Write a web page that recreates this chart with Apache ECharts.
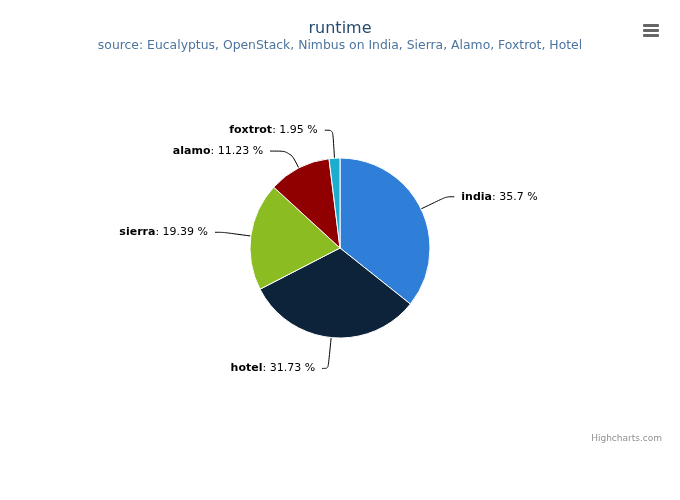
<!DOCTYPE html>
<html><head><meta charset="utf-8">
<script src="https://cdn.jsdelivr.net/npm/echarts@6/dist/echarts.min.js"></script>
<style>html,body{margin:0;padding:0;background:#fff}#c{width:680px;height:500px}</style>
</head><body><div id="c"></div>
<script>
const categories = ['india', 'hotel', 'sierra', 'alamo', 'foxtrot'];
const values = [35.7, 31.73, 19.39, 11.23, 1.95];
const colors = ['#2f7ed8', '#0d233a', '#8bbc21', '#910000', '#1aadce'];
const titleText = 'runtime';
const subtitleText = 'source: Eucalyptus, OpenStack, Nimbus on India, Sierra, Alamo, Foxtrot, Hotel';

const chart = echarts.init(document.getElementById('c'), null, {renderer: 'canvas'});
const font = 'DejaVu Sans';
chart.setOption({
  animation: false,
  textStyle: {fontFamily: font},
  title: {
    text: titleText, subtext: subtitleText, left: 'center', top: 16,
    itemGap: 3,
    textStyle: {fontFamily: font, fontSize: 16, fontWeight: 'normal', color: '#274b6d'},
    subtextStyle: {fontFamily: font, fontSize: 12.4, color: '#4d759e'}
  },
  graphic: [
    {type: 'rect', shape: {x: 643, y: 24, width: 16, height: 3, r: 1}, style: {fill: '#666'}},
    {type: 'rect', shape: {x: 643, y: 29, width: 16, height: 3, r: 1}, style: {fill: '#666'}},
    {type: 'rect', shape: {x: 643, y: 34, width: 16, height: 3, r: 1}, style: {fill: '#666'}},
    {type: 'text', right: 18, top: 434, style: {text: 'Highcharts.com', fill: '#909090', font: '9px ' + font}}
  ],
  series: [{
    type: 'pie',
    center: [340, 248],
    radius: 90,
    startAngle: 90,
    clockwise: true,
    color: colors,
    itemStyle: {borderColor: '#fff', borderWidth: 1},
    data: categories.map((c, i) => {
      const d = {name: c, value: values[i]};
      if (c === 'alamo') d.labelLine = {length: 19, length2: 20};
      if (c === 'hotel') d.labelLine = {length: 31, length2: 6};
      return d;
    }),
    label: {
      show: true,
      formatter: p => '{b|' + p.name + '}: ' + p.value + ' %',
      fontSize: 11, color: '#000', fontFamily: font,
      distanceToLabelLine: 7,
      rich: {b: {fontWeight: 'bold', fontSize: 11, color: '#000', fontFamily: font}}
    },
    labelLine: {show: true, length: 28, length2: 8, smooth: 0.3, lineStyle: {color: '#000', width: 1}},
    emphasis: {disabled: true}
  }]
});
</script></body></html>
